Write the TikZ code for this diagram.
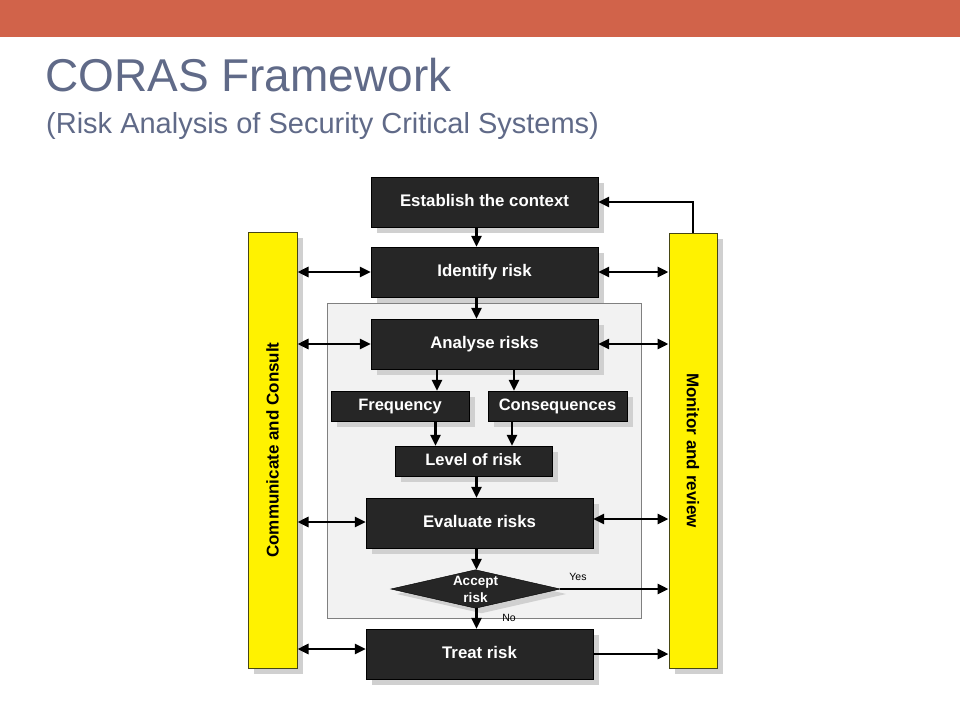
\documentclass[tikz,border=0pt]{standalone}
\usepackage{fontspec}
\setmainfont{Liberation Sans}
\usetikzlibrary{arrows.meta,shadows}
\definecolor{topbar}{RGB}{209,99,74}
\definecolor{titlecol}{RGB}{96,106,136}
\definecolor{boxfill}{RGB}{38,38,38}
\definecolor{shadowcol}{RGB}{208,208,208}
\definecolor{panelfill}{RGB}{242,242,242}
\definecolor{panelline}{RGB}{128,128,128}
\definecolor{barline}{RGB}{70,70,20}
\tikzset{
  shad/.style={drop shadow={shadow xshift=6pt,shadow yshift=-6pt,fill=shadowcol,opacity=1}},
  bigbox/.style={shad,draw=black,fill=boxfill,text=white,font=\bfseries\fontsize{16.8}{19}\selectfont,minimum width=227pt,minimum height=50pt,inner sep=0pt,text height=12.5pt,text depth=3.5pt},
  smallbox/.style={shad,draw=black,fill=boxfill,text=white,font=\bfseries\fontsize{16.5}{19}\selectfont,minimum height=30pt,inner sep=0pt,text height=12.5pt,text depth=3.5pt},
  ybar/.style={shad,draw=barline,line width=1pt,fill=yellow,inner sep=0pt},
  bartext/.style={font=\bfseries\fontsize{17}{19}\selectfont,inner sep=0pt},
  arr/.style={line width=2.8pt,-{Triangle[length=11pt,width=10pt]}},
  dbl/.style={line width=2.8pt,{Triangle[length=11pt,width=10pt]}-{Triangle[length=11pt,width=10pt]}},
  lbl/.style={font=\fontsize{10.5}{12}\selectfont,inner sep=0pt}
}
\begin{document}
\begin{tikzpicture}[x=1pt,y=-1pt]
\useasboundingbox (0,0) rectangle (960,720);
\fill[white] (0,0) rectangle (960,720);
\fill[topbar] (0,0) rectangle (960,37);
\node[anchor=base west,inner sep=0pt,text=titlecol,font=\fontsize{46}{52}\selectfont] (title) at (45,91) {CORAS Framework};
\node[anchor=base west,inner sep=0pt,text=titlecol,font=\fontsize{29}{34}\selectfont] (subtitle) at (46,133) {(Risk Analysis of Security Critical Systems)};

\node[draw=panelline,fill=panelfill,line width=0.8pt,minimum width=314pt,minimum height=315pt,inner sep=0pt] (panel) at (484,460.5) {};

\node[bigbox] (est) at (484.5,202) {Establish the context};
\node[bigbox] (idr) at (484.5,272) {Identify risk};
\node[bigbox] (ana) at (484.5,344) {Analyse risks};
\node[smallbox,minimum width=138pt] (freq) at (400,406) {Frequency};
\node[smallbox,minimum width=139pt] (cons) at (557.5,406) {Consequences};
\node[smallbox,minimum width=157pt] (lev) at (473.5,461) {Level of risk};
\node[bigbox] (eva) at (479.5,523) {Evaluate risks};
\node[minimum width=169pt,minimum height=38pt,inner sep=0pt] (acc) at (475.5,589) {};
\fill[shadowcol] ([shift={(6,5)}]acc.west) -- ([shift={(6,5)}]acc.north) -- ([shift={(6,5)}]acc.east) -- ([shift={(6,5)}]acc.south) -- cycle;
\filldraw[draw=black,fill=boxfill] (acc.west) -- (acc.north) -- (acc.east) -- (acc.south) -- cycle;
\node[text=white,align=center,inner sep=0pt,font=\bfseries\fontsize{13.5}{17}\selectfont] (acctext) at (acc.center) {Accept\\risk};
\node[bigbox] (trt) at (479.5,654) {Treat risk};

\node[ybar,minimum width=49pt,minimum height=436pt] (lbar) at (272.5,450) {};
\node[rotate=90,bartext] (ltext) at (lbar.center) {Communicate and Consult};
\node[ybar,minimum width=48pt,minimum height=435pt] (rbar) at (693,450.5) {};
\node[rotate=-90,bartext] (rtext) at (rbar.center) {Monitor and review};

\coordinate (xm) at (476.5,0);
\coordinate (xa) at (437,0);
\coordinate (xb) at (514,0);
\coordinate (xc) at (435.5,0);
\coordinate (xd) at (512,0);

\draw[arr] (est.south -| xm) -- (idr.north -| xm);
\draw[arr] (idr.south -| xm) -- (ana.north -| xm);
\draw[arr] (ana.south -| xa) -- (freq.north -| xa);
\draw[arr] (ana.south -| xb) -- (cons.north -| xb);
\draw[arr] (freq.south -| xc) -- (lev.north -| xc);
\draw[arr] (cons.south -| xd) -- (lev.north -| xd);
\draw[arr] (lev.south -| xm) -- (eva.north -| xm);
\draw[arr] (eva.south -| xm) -- (acc.north -| xm);
\draw[arr] (acc.south -| xm) -- (trt.north -| xm);
\draw[arr] (acc.east) -- (rbar.west |- acc.east);
\draw[arr] (rbar.north) |- (est.east);

\draw[dbl] (lbar.east |- idr.west) -- (idr.west);
\draw[dbl] (lbar.east |- ana.west) -- (ana.west);
\draw[dbl] ([yshift=1]lbar.east |- eva.west) -- ([yshift=1]eva.west);
\draw[dbl] ([yshift=5]lbar.east |- trt.west) -- ([yshift=5]trt.west);
\draw[dbl] (idr.east) -- (rbar.west |- idr.east);
\draw[dbl] (ana.east) -- (rbar.west |- ana.east);
\draw[dbl] ([yshift=4]eva.east) -- ([yshift=4]rbar.west |- eva.east);
\draw[arr] (trt.east) -- (rbar.west |- trt.east);

\node[lbl] (yes) at (578,577) {Yes};
\node[lbl] (no) at (509,618) {No};
\end{tikzpicture}
\end{document}
